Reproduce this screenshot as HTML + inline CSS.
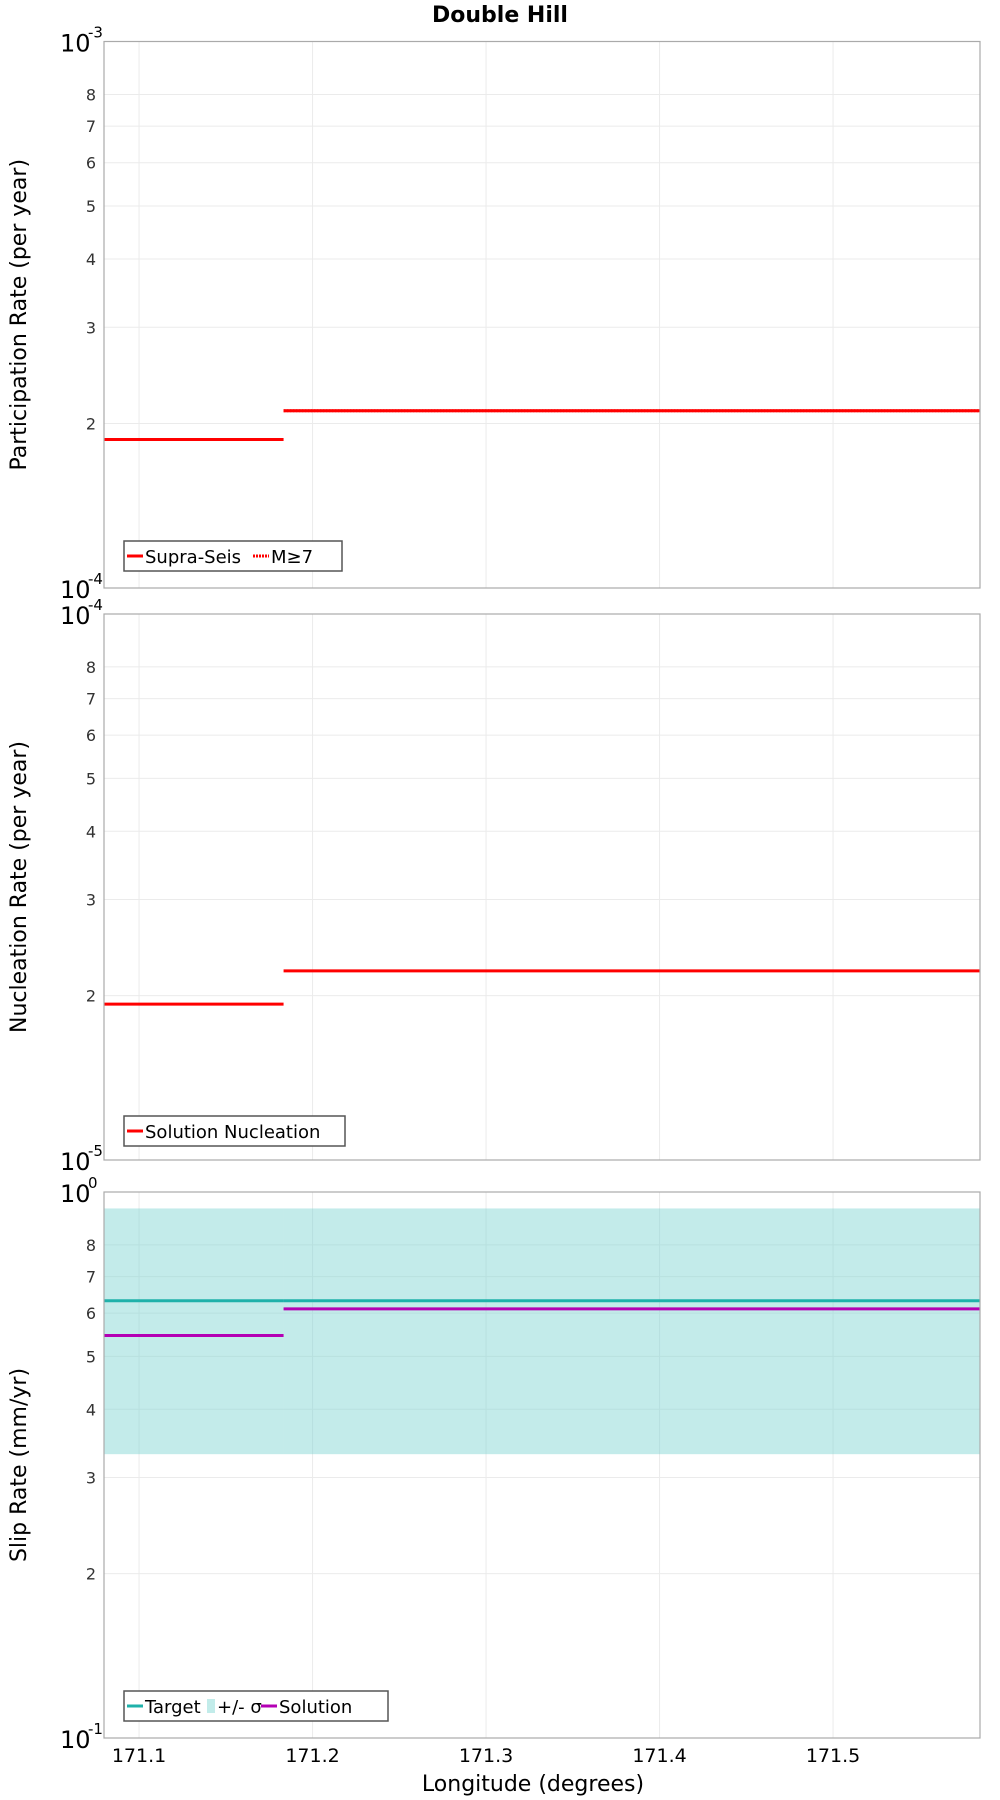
<!DOCTYPE html>
<html><head><meta charset="utf-8"><style>
html,body{margin:0;padding:0;background:#fff}
svg{display:block;font-family:"DejaVu Sans","Liberation Sans",sans-serif}
</style></head><body>
<svg id="chart" width="1000" height="1800" viewBox="0 0 1000 1800">
<text x="500" y="22" text-anchor="middle" font-size="22" font-weight="bold">Double Hill</text>
<g id="plots"></g>
<text x="533" y="1791" text-anchor="middle" font-size="22">Longitude (degrees)</text>
</svg>
<script>
const xTicks = [171.1, 171.2, 171.3, 171.4, 171.5];
const xDomain = [171.0798, 171.5847];
const segStarts = [171.0798, 171.1833];
const segEnds = [171.1833, 171.5847];
const partSupra = [1.87e-4, 2.11e-4];
const partM7 = [1.87e-4, 2.11e-4];
const nuclSol = [1.93e-5, 2.22e-5];
const slipTarget = [6.32, 6.32];
const slipSigmaLow = [3.31, 3.31];
const slipSigmaHigh = [9.33, 9.33];
const slipSolution = [5.46, 6.11];
const minorTicks = [2, 3, 4, 5, 6, 7, 8];

const NS = "http://www.w3.org/2000/svg";
const root = document.getElementById('plots');
const L = 104, R = 980;
function xs(v){ return L + (v - xDomain[0]) / (xDomain[1] - xDomain[0]) * (R - L); }
function mk(tag, attrs, parent){ const e = document.createElementNS(NS, tag); for (const k in attrs) e.setAttribute(k, attrs[k]); (parent||root).appendChild(e); return e; }

function panel(top, bottom, dec, scale, yTitle, topExp, botExp, name){
  const g = mk('g', {});
  
  
  const ys = v => bottom - (Math.log10(v / scale) - 0) * (bottom - top);
  // grid
  xTicks.forEach(t => {
    const l = mk('line', {x1: xs(t), x2: xs(t), y1: top, y2: bottom, stroke: '#ebebeb', 'stroke-width': 1}, g);
    
    
  });
  minorTicks.forEach(t => {
    const y = ys(t * scale);
    const l = mk('line', {x1: L, x2: R, y1: y, y2: y, stroke: '#ebebeb', 'stroke-width': 1}, g);
    
    
    const tx = mk('text', {x: 96, y: y + 6, 'text-anchor': 'end', 'font-size': 16, fill: '#333'}, g);
    tx.textContent = t;
    
    
  });
  // y labels exponent
  [[top, topExp], [bottom, botExp]].forEach(([y, e]) => {
    const tx = mk('text', {x: 60, y: y + 10, 'font-size': 24}, g);
    tx.textContent = '10';
    
    
    const sp = mk('text', {x: 88, y: y - 4, 'font-size': 15}, g);
    sp.textContent = e;
    
    
  });
  const t = mk('text', {x: 0, y: 0, 'text-anchor': 'middle', 'font-size': 22, transform: `translate(26 ${(top+bottom)/2}) rotate(-90)`}, g);
  t.textContent = yTitle;
  
  
  return {g, ys};
}
function frame(g, top, bottom){
  const r = mk('rect', {x: L, y: top, width: R - L, height: bottom - top, fill: 'none', stroke: '#aaa', 'stroke-width': 1.2}, g);
  
  
}
function steps(g, ys, vals, color, w, dash, name){
  vals.forEach((v, i) => {
    const a = {x1: xs(segStarts[i]), x2: xs(segEnds[i]), y1: ys(v), y2: ys(v), stroke: color, 'stroke-width': w};
    if (dash) a['stroke-dasharray'] = dash;
    const l = mk('line', a, g);
    
    
  });
}
function legend(g, x, y, w, items, name){
  const lg = mk('g', {}, g);
  
  
  const r = mk('rect', {x: x, y: y, width: w, height: 30, fill: '#fff', stroke: '#555', 'stroke-width': 1.5}, lg);
  
  
  let cx = x + 3;
  items.forEach(it => {
    let sw;
    if (it.type === 'rect') sw = mk('rect', {x: cx, y: y + 8, width: 8, height: 14, fill: it.color}, lg);
    else { sw = mk('line', {x1: cx, x2: cx + 16, y1: y + 15, y2: y + 15, stroke: it.color, 'stroke-width': 3}, lg); if (it.dash) sw.setAttribute('stroke-dasharray', it.dash); }
    
    
    cx += it.type === 'rect' ? 10 : 18;
    const tx = mk('text', {x: cx, y: y + 22, 'font-size': 18}, lg);
    tx.textContent = it.label;
    
    
    cx += it.w;
  });
}

// Panel 1
let p = panel(41.5, 588, 1, 1e-4, 'Participation Rate (per year)', '-3', '-4', 'participation-panel');
steps(p.g, p.ys, partSupra, '#ff0000', 3, null, 'supra-seis-line');
steps(p.g, p.ys, partM7, '#ff0000', 3, '2 1', 'm7-line');
frame(p.g, 41.5, 588);
legend(p.g, 124, 541, 218, [{color:'#f00', label:'Supra-Seis', w:108},{color:'#f00', dash:'2 1', label:'M≥7', w:40}], 'participation-legend');

// Panel 2
p = panel(614, 1160, 1, 1e-5, 'Nucleation Rate (per year)', '-4', '-5', 'nucleation-panel');
steps(p.g, p.ys, nuclSol, '#ff0000', 3, null, 'solution-nucleation-line');
frame(p.g, 614, 1160);
legend(p.g, 124, 1116, 221, [{color:'#f00', label:'Solution Nucleation', w:200}], 'nucleation-legend');

// Panel 3
p = panel(1192, 1738, 1, 1, 'Slip Rate (mm/yr)', '0', '-1', 'slip-rate-panel');
slipSigmaHigh.forEach((v, i) => {
  const y1 = p.ys(v), y2 = p.ys(slipSigmaLow[i]);
  const r = mk('rect', {x: xs(segStarts[i]), y: y1, width: xs(segEnds[i]) - xs(segStarts[i]), height: y2 - y1, fill: '#7fd5d2', 'fill-opacity': 0.47}, p.g);
  
  
});
steps(p.g, p.ys, slipTarget, '#1fb1aa', 3, null, 'target-line');
steps(p.g, p.ys, slipSolution, '#b400b4', 3, null, 'solution-line');
frame(p.g, 1192, 1738);
legend(p.g, 124, 1691, 264, [{color:'#1fb1aa', label:'Target', w:62},{type:'rect', color:'#c2ecea', label:'+/- σ', w:44},{color:'#b400b4', label:'Solution', w:80}], 'slip-legend');

// x tick labels
xTicks.forEach(t => {
  const tx = mk('text', {x: xs(t), y: 1762, 'text-anchor': 'middle', 'font-size': 19});
  tx.textContent = t.toFixed(1);
  
  
});
</script>
</body></html>
